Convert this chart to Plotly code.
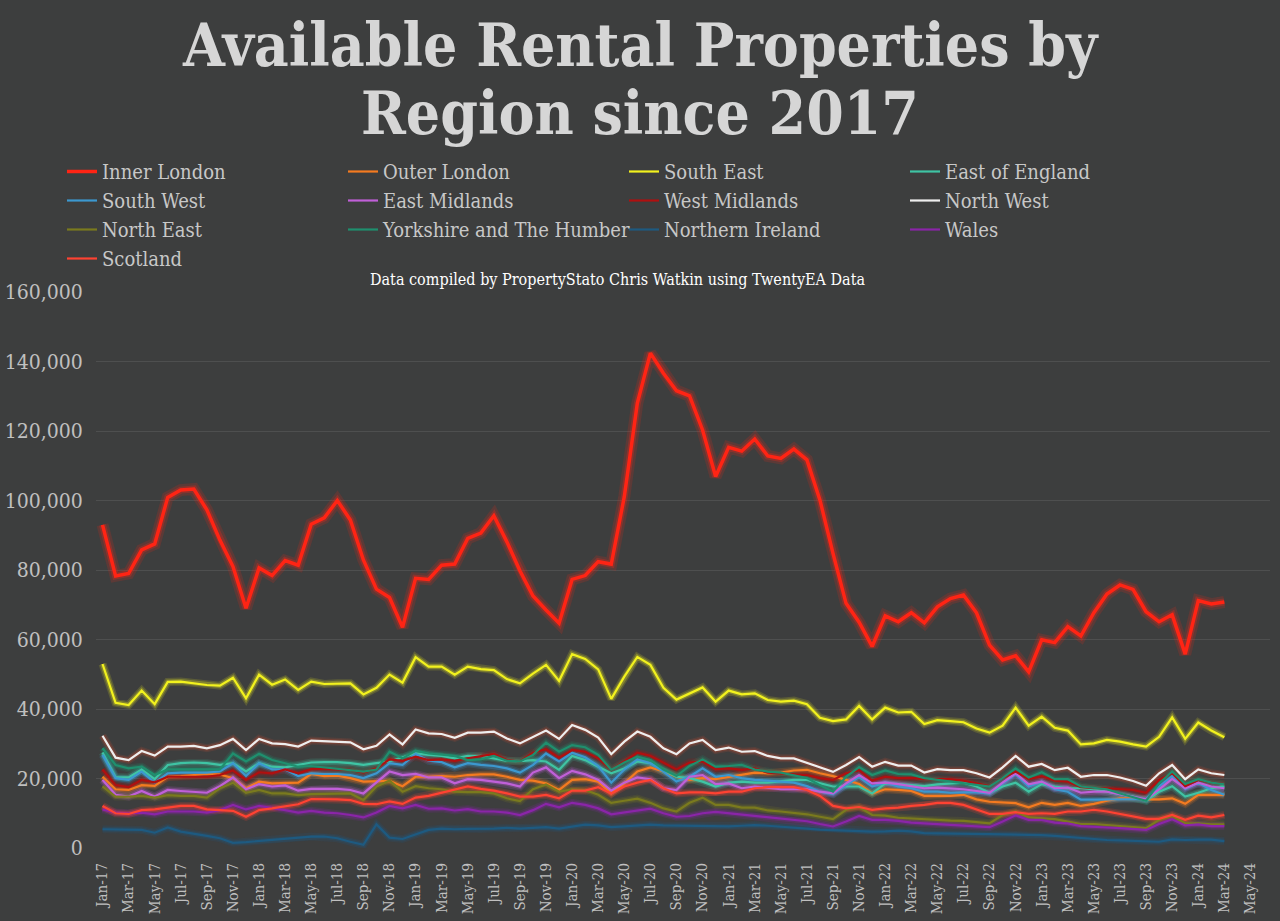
import plotly.graph_objects as go

months = ["Jan", "Feb", "Mar", "Apr", "May", "Jun", "Jul", "Aug", "Sep", "Oct", "Nov", "Dec"]
# month labels Jan-17 .. Mar-24 (data) ; axis ticks every 2 months to May-24
dates = [f"{months[i % 12]}-{17 + i // 12}" for i in range(87)]
tick_idx = list(range(0, 89, 2))
tick_labels = [f"{months[i % 12]}-{17 + i // 12}" for i in tick_idx]

inner_london = [93000,78300,79000,85800,87500,100900,103000,103300,97300,88600,
                81000,69000,80600,78400,82700,81400,93200,95000,100000,94400,
                82900,74500,72100,63500,77600,77300,81400,81700,89100,90600,
                95600,88100,79800,72500,68500,64700,77300,78400,82400,81700,
                101100,128000,142400,136600,131600,130100,120300,106900,115300,114200,
                117700,112800,112100,114800,111700,100100,84800,70400,65000,58000,
                66800,65100,67700,64800,69400,71800,72800,67700,58400,54100,
                55300,50700,59900,59100,63700,61000,67700,73100,75700,74400,
                68000,65100,67100,55800,71200,70200,70800]
outer_london = [20500,16900,16700,18100,17900,20500,20700,21000,21300,21200,
                20100,17200,19100,18600,18800,18800,21300,20700,20800,20100,
                19100,19100,19300,17800,20500,20500,20700,20500,21000,21200,
                21200,20500,19600,19400,18600,16700,19600,19800,19100,15700,
                18600,22000,23200,22000,20500,19600,20100,19800,20500,21000,
                21700,21500,21700,22300,22500,21500,20700,19600,18400,15700,
                16900,16700,16400,15000,15000,15000,15300,14000,13300,13000,
                12900,11700,13000,12400,13000,12100,12700,13600,14300,14300,
                14000,14000,14300,12700,15300,15300,15300]
south_east = [52950,41800,41150,45300,41400,47800,47900,47400,46900,46700,
              49000,43100,49900,47000,48500,45500,47900,47200,47400,47400,
              44200,46100,49900,47600,54900,52200,52200,49900,52200,51500,
              51200,48600,47400,50200,52700,48100,55800,54400,51400,42900,
              49300,55000,52700,46100,42700,44500,46200,42100,45300,44200,
              44500,42600,42100,42400,41400,37500,36500,37000,40900,37000,
              40400,39000,39200,35700,36800,36500,36200,34400,33200,35200,
              40400,35200,37800,34600,33800,29800,30100,31100,30600,29800,
              29200,32000,37600,31400,36100,33800,31900]
east_of_england = [27500,20400,20300,22600,19800,23900,24400,24600,24400,23900,
                   24400,22000,24400,23400,23200,23900,24600,24700,24700,24400,
                   23900,24400,24900,26100,27200,26800,26500,25800,26500,26500,
                   25800,25100,25000,25300,24900,22500,26500,25300,23400,21500,
                   22900,24900,24400,22500,20500,20100,19100,17700,18800,19100,
                   18800,18800,19100,19600,19600,18600,17700,17700,17700,15700,
                   18600,18400,18100,17800,18300,18600,18800,17700,15900,17700,
                   18800,16200,18400,17700,17200,17200,16900,16200,15500,14800,
                   13600,16200,17800,14800,15900,17200,17800]
south_west = [26800,20100,19600,22000,18800,21500,21700,21700,21700,22000,
              24400,20700,24400,22600,22600,20700,21500,21300,21300,21000,
              20100,21500,24400,23900,27100,25100,24700,23200,24400,23900,
              23600,22900,21700,23900,27200,24900,27400,26100,23600,18800,
              22600,25500,24400,22000,19100,20500,22900,20500,21000,20100,
              19600,19400,19100,18800,17800,16200,15500,18100,20400,17700,
              18800,17700,17200,16200,16200,15900,16000,16000,15700,18600,
              21200,17700,19100,16900,16200,13900,13900,14000,14100,14000,
              14100,17700,20700,16900,18800,16700,15300]
east_midlands = [19600,15300,14800,16400,14800,16700,16400,16200,15900,17800,
                 20300,16900,18400,17700,18000,16500,17000,17000,17000,16700,
                 15700,18900,22000,21000,21300,20300,20300,18600,19800,19600,
                 19100,18600,17700,21700,23200,20100,22200,21200,19600,16500,
                 18800,20300,19800,17200,16700,20500,21000,18400,18600,17200,
                 17700,17400,16900,16900,16900,16200,15700,18600,21000,18600,
                 18800,18400,17800,17200,17400,17200,16900,16400,15900,18800,
                 21500,18300,19100,17200,17400,15900,16200,16200,15500,14800,
                 14000,16900,19900,17200,18800,17700,17200]
west_midlands = [22600,18100,17500,19600,18900,20500,20500,20500,20500,21000,
                 22300,19600,21800,21500,22600,21500,22700,22700,22700,22500,
                 21700,22900,25500,25100,26300,25300,25500,25100,25800,26500,
                 27100,25300,24900,27400,28400,26000,28200,27700,25800,22500,
                 24900,27400,26500,24600,22600,24600,24900,22600,22900,22500,
                 22900,21700,21500,21300,21000,20100,19600,21500,22400,19400,
                 20500,20100,20200,19800,19800,19800,19400,18600,17800,20100,
                 22000,19800,20700,19400,19100,17500,17200,17200,16900,16700,
                 15900,19600,21500,17800,19600,18800,18400]
north_west = [32300,26000,25300,27900,26600,29200,29200,29400,28700,29600,
              31400,28200,31400,30100,29900,29200,30900,30800,30600,30400,
              28400,29400,32700,29800,34100,33000,32800,31700,33200,33200,
              33500,31500,30100,32000,33800,31400,35400,34000,31800,27000,
              30600,33500,32000,28700,27000,30100,31100,28200,28900,27700,
              27900,26500,25800,25800,24500,23100,21900,23900,26200,23400,
              24800,23700,23700,21700,22700,22400,22400,21500,20300,23200,
              26500,23400,24200,22400,23100,20500,21000,21000,20300,19300,
              17900,21500,23900,19800,22600,21500,21000]
north_east = [17700,14800,14800,15000,14500,15200,15000,15000,14500,17200,
              18800,15900,16700,15700,15700,15200,15500,15500,15600,15700,
              13800,17700,19400,16200,17800,17200,16900,16200,16100,16100,
              15700,14300,13500,16900,18300,16200,16900,16700,15300,13000,
              13600,14200,13000,11400,10500,13000,14500,12400,12400,11600,
              11600,10800,10500,10200,9700,9000,8300,11000,11800,9500,
              9300,8700,8500,8100,8100,7900,7800,7500,7100,9500,
              10500,8800,8500,8300,7600,6900,6900,6600,6300,6000,
              5700,8100,9200,7100,7100,6800,6800]
yorkshire = [28700,23900,22900,23400,21000,22600,22600,22600,22500,22600,
             27200,24900,27100,25300,24400,23400,23600,23200,22900,22500,
             22000,22600,27700,25800,28000,27200,26800,26500,25300,25500,
             26500,25100,24900,26800,30300,27700,29600,29000,26800,22500,
             24600,26300,25300,22600,20700,23600,25500,23400,23600,23900,
             22600,22000,21700,21000,20100,18100,16200,20500,23300,21000,
             22300,21300,21200,20100,19600,19100,18600,18100,17700,20100,
             22900,20300,21800,19800,19800,17700,17200,16900,15700,14600,
             13600,18600,22000,18400,19800,18800,18300]
northern_ireland = [5400,5400,5400,5200,4400,5900,4700,4200,3500,2800,
                    1500,1700,2000,2300,2600,3000,3300,3300,2800,1800,
                    900,6800,3000,2600,4000,5200,5600,5400,5500,5500,
                    5600,5800,5600,5800,6000,5600,6200,6700,6500,6000,
                    6200,6500,6700,6500,6400,6300,6200,6100,6200,6400,
                    6600,6400,6200,5900,5600,5300,5100,5000,4900,4700,
                    4800,5000,4800,4300,4200,4200,4100,4000,4000,3900,
                    3900,3700,3700,3500,3200,2700,2500,2300,2200,2100,
                    1900,1800,2500,2300,2400,2400,2000]
wales = [11100,10200,10000,10200,9700,10500,10500,10500,10200,10900,
         12400,11100,12100,11600,10900,10200,10700,10200,10000,9500,
         8800,10200,12100,11400,12400,11300,11400,10800,11200,10500,
         10500,10200,9500,10900,12700,11700,13000,12400,11400,9700,
         10200,10900,11300,10000,9000,9200,10000,10400,10000,9600,
         9200,9000,8600,8200,7700,6900,6200,7600,9200,8100,
         8100,7800,7300,7100,6900,6600,6300,6200,6000,7600,
         9400,8100,8100,7300,7100,6300,6000,5900,5700,5500,
         5200,6900,8300,6500,6800,6300,6300]
scotland = [12100,10000,9800,10900,11100,11700,12100,12100,11100,10900,
            10700,9000,10900,11400,12100,12600,14100,14100,14000,13800,
            12700,12600,13400,12700,14500,15000,15900,16900,17700,17000,
            16500,15700,14800,14800,15300,14300,16500,16500,17500,15700,
            17700,18800,19600,17200,15700,16000,16000,15700,16200,16200,
            17200,17500,17500,17500,16700,15000,12100,11400,11800,11000,
            11400,11600,12100,12400,13000,13000,12400,11200,9800,9800,
            10300,9800,10000,9800,10500,10500,11000,10500,9800,9300,
            8400,8400,9500,8100,9300,8800,9500]

series = [
    ("Inner London", inner_london, "#ff2414"),
    ("Outer London", outer_london, "#f47b20"),
    ("South East", south_east, "#f2f21e"),
    ("East of England", east_of_england, "#3fc4a4"),
    ("South West", south_west, "#3c98cf"),
    ("East Midlands", east_midlands, "#c060d8"),
    ("West Midlands", west_midlands, "#b01010"),
    ("North West", north_west, "#eeeeee"),
    ("North East", north_east, "#7a7a1e"),
    ("Yorkshire and The Humber", yorkshire, "#1f8f6e"),
    ("Northern Ireland", northern_ireland, "#1e5a80"),
    ("Wales", wales, "#8a25a8"),
    ("Scotland", scotland, "#ff4232"),
]

def rgba(hex_color, a):
    h = hex_color.lstrip("#")
    r, g, b = int(h[0:2], 16), int(h[2:4], 16), int(h[4:6], 16)
    return f"rgba({r},{g},{b},{a})"

x = list(range(len(dates)))
fig = go.Figure()

# glow layers
for name, vals, col in series:
    gcol = "#d04a30" if name == "North West" else col
    big = name == "Inner London"
    fig.add_trace(go.Scatter(x=x, y=vals, mode="lines", showlegend=False, hoverinfo="skip",
                             line=dict(color=rgba(gcol, 0.16), width=12 if big else 8)))
    fig.add_trace(go.Scatter(x=x, y=vals, mode="lines", showlegend=False, hoverinfo="skip",
                             line=dict(color=rgba(gcol, 0.28), width=7 if big else 5)))

# main lines (legend order)
for name, vals, col in series:
    fig.add_trace(go.Scatter(x=x, y=vals, mode="lines", name=name, text=dates,
                             line=dict(color=col, width=3.5 if name == "Inner London" else 2.2)))

serif = "DejaVu Serif Condensed, DejaVu Serif, serif"
bg = "#3d3e3e"

# plot area in pixels: x 96..1270, y 292..848
def px(xp):
    return (xp - 96) / 1174
def py(yp):
    return (848 - yp) / 556

fig.update_layout(
    width=1280, height=921,
    paper_bgcolor=bg, plot_bgcolor=bg,
    margin=dict(l=96, r=10, t=292, b=73),
    font=dict(family=serif, color="#c8c8c8"),
    showlegend=True,
    legend=dict(orientation="h", x=px(62), y=py(152), xanchor="left", yanchor="top",
                entrywidth=236, entrywidthmode="pixels",
                font=dict(family=serif, size=20, color="#c8c8c8"),
                bgcolor="rgba(0,0,0,0)", itemwidth=30, tracegroupgap=0),
    annotations=[
        dict(text="<b>Available Rental Properties by</b>", xref="paper", yref="paper",
             x=px(640), y=py(45), xanchor="center", yanchor="middle", showarrow=False,
             font=dict(family=serif, size=60, color="#d6d6d6")),
        dict(text="<b>Region since 2017</b>", xref="paper", yref="paper",
             x=px(640), y=py(113), xanchor="center", yanchor="middle", showarrow=False,
             font=dict(family=serif, size=60, color="#d6d6d6")),
        dict(text="Data compiled by PropertyStato Chris Watkin using TwentyEA Data",
             xref="paper", yref="paper", x=px(617), y=py(280),
             xanchor="center", yanchor="middle", showarrow=False,
             font=dict(family=serif, size=16, color="#ffffff")),
    ],
)

fig.update_xaxes(range=[-0.5, 89.5], tickmode="array", tickvals=tick_idx, ticktext=tick_labels,
                 tickangle=-90, showgrid=False, zeroline=False, showline=False,
                 ticks="outside", ticklen=8, tickcolor="rgba(0,0,0,0)",
                 tickfont=dict(family=serif, size=15, color="#c0c0c0"), automargin=False)
fig.update_yaxes(range=[0, 160000], tickmode="array", tickvals=list(range(0, 160001, 20000)),
                 tickformat=",d", showgrid=True, gridcolor="#4e4f4f", gridwidth=1,
                 zeroline=False, showline=False,
                 ticks="outside", ticklen=8, tickcolor="rgba(0,0,0,0)",
                 tickfont=dict(family=serif, size=21, color="#c0c0c0"), automargin=False)

fig.write_html("out.html", config={"displayModeBar": False},
               post_script="document.body.style.margin='0px';")
